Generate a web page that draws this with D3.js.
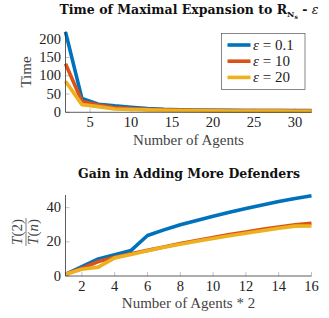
<!DOCTYPE html>
<html>
<head>
<meta charset="utf-8">
<script src="https://cdn.jsdelivr.net/npm/d3@7"></script>
<style>
  body { margin: 0; background: #fff; }
  text { font-family: "Liberation Serif", "DejaVu Serif", serif; }
  .ttl { font-family: "DejaVu Serif", serif; }
</style>
</head>
<body>
<svg id="chart" width="329" height="318"></svg>
<script>
var legendLabels = ["0.1", "10", "20"];
var colors = ["#0072BD", "#D95319", "#EDB120"];

// top chart: number of agents vs time
var agents = [2, 4, 6, 8, 10, 12, 14, 16, 18, 20, 22, 24, 26, 28, 30, 32];
var timeEps01 = [220, 38, 22, 17.5, 14, 10, 8, 7, 6.3, 5.8, 5.4, 5.1, 4.9, 4.8, 4.7, 4.6];
var timeEps10 = [133, 30, 20, 13, 10, 8, 7, 6, 5.5, 5.2, 5, 4.8, 4.6, 4.5, 4.4, 4.3];
var timeEps20 = [85, 21, 15.5, 9, 7.5, 6.5, 5.5, 5, 4.5, 4, 3.7, 3.5, 3.3, 3.1, 3, 2.9];
var topXTicks = [5, 10, 15, 20, 25, 30];
var topYTicks = [0, 50, 100, 150, 200];

// bottom chart: gain T(2)/T(n)
var pairs = [1, 2, 3, 4, 5, 6, 7, 8, 9, 10, 11, 12, 13, 14, 15, 16];
var gainEps01 = [1, 5.5, 10, 12.4, 15, 23.7, 27, 30, 32.5, 35, 37.3, 39.5, 41.6, 43.6, 45.4, 47];
var gainEps10 = [1, 4.5, 8.5, 11, 13, 15, 17, 19, 20.8, 22.5, 24.2, 25.8, 27.3, 28.7, 29.9, 30.9];
var gainEps20 = [1, 4, 5.2, 10.6, 12.6, 14.8, 16.8, 18.6, 20.3, 21.9, 23.5, 25, 26.5, 27.9, 29.2, 29.3];
var botXTicks = [2, 4, 6, 8, 10, 12, 14, 16];
var botYTicks = [0, 20, 40];

var svg = d3.select("#chart");
var axisCol = "#333", tickCol = "#999", labCol = "#222";

function panel(opt) {
  var x = d3.scaleLinear().domain(opt.xDomain).range([65.5, 311.5]);
  var y = d3.scaleLinear().domain(opt.yDomain).range([opt.bottom, opt.top]);
  var g = svg.append("g");

  // inward tick marks
  g.selectAll(".xt").data(opt.xTicks).enter().append("line")
    .attr("x1", d => x(d)).attr("x2", d => x(d))
    .attr("y1", opt.bottom).attr("y2", opt.bottom - 4)
    .attr("stroke", tickCol).attr("stroke-width", 0.6);
  g.selectAll(".yt").data(opt.yTicks).enter().append("line")
    .attr("x1", 65.5).attr("x2", 69.5)
    .attr("y1", d => y(d)).attr("y2", d => y(d))
    .attr("stroke", tickCol).attr("stroke-width", 0.6);

  var line = d3.line().x((d, i) => x(opt.xs[i])).y(d => y(d));
  opt.series.forEach(function(s, k) {
    g.append("path").datum(s)
      .attr("fill", "none").attr("stroke", colors[k])
      .attr("stroke-width", 3.6).attr("stroke-linejoin", "round")
      .attr("d", line);
  });

  // axis lines (left + bottom)
  g.append("path")
    .attr("d", "M65.5," + opt.top + "V" + opt.bottom + "H311.5")
    .attr("fill", "none").attr("stroke", axisCol).attr("stroke-width", 0.8);

  g.selectAll(".xl").data(opt.xTicks).enter().append("text")
    .attr("x", d => x(d)).attr("y", opt.bottom + 15)
    .attr("text-anchor", "middle").attr("font-size", 14.5).attr("fill", labCol)
    .text(d => d);
  g.selectAll(".yl").data(opt.yTicks).enter().append("text")
    .attr("x", 61).attr("y", d => y(d) + 4.5)
    .attr("text-anchor", "end").attr("font-size", 14.5).attr("fill", labCol)
    .text(d => d);

  g.append("text").attr("x", 188.5).attr("y", opt.xLabelY)
    .attr("text-anchor", "middle").attr("font-size", 15).attr("fill", "#444")
    .text(opt.xLabel);

  g.append("text").attr("class", "ttl").attr("x", opt.titleX).attr("y", opt.titleY)
    .attr("text-anchor", "middle").attr("font-size", 12.5)
    .attr("font-weight", "bold").attr("fill", "#111")
    .call(opt.title);
  return {x: x, y: y, g: g};
}

var topPanel = panel({
  xDomain: [2, 32], yDomain: [0, 221], top: 31.5, bottom: 112.3,
  xs: agents, series: [timeEps01, timeEps10, timeEps20],
  xTicks: topXTicks, yTicks: topYTicks,
  xLabel: "Number of Agents", xLabelY: 144.5, titleY: 14, titleX: 189,
  title: function(t) {
    t.append("tspan").text("Time of Maximal Expansion to R");
    t.append("tspan").attr("font-size", 8).attr("dy", 3).text("N");
    t.append("tspan").attr("font-size", 6).attr("dy", 1.5).text("s");
    t.append("tspan").attr("dy", -4.5).text(" - ");
    t.append("tspan").attr("font-weight", "normal").attr("font-style", "italic").text("ε");
  }
});

topPanel.g.append("text").attr("transform", "translate(31,72)rotate(-90)")
  .attr("text-anchor", "middle").attr("font-size", 15).attr("fill", "#444")
  .text("Time");

// legend
var leg = topPanel.g.append("g");
leg.append("rect").attr("x", 221.5).attr("y", 33.5).attr("width", 83.5).attr("height", 56)
  .attr("fill", "#fff").attr("stroke", "#555").attr("stroke-width", 0.7);
legendLabels.forEach(function(l, i) {
  var yy = 45 + i * 16.2;
  leg.append("line").attr("x1", 227.5).attr("x2", 250.5).attr("y1", yy).attr("y2", yy)
    .attr("stroke", colors[i]).attr("stroke-width", 3.6);
  var t = leg.append("text").attr("x", 253).attr("y", yy + 4.5)
    .attr("font-size", 15).attr("fill", labCol);
  t.append("tspan").attr("font-style", "italic").text("ε");
  t.append("tspan").text(" = " + l);
});

var botPanel = panel({
  xDomain: [1, 16], yDomain: [0, 47.4], top: 195, bottom: 276,
  xs: pairs, series: [gainEps01, gainEps10, gainEps20],
  xTicks: botXTicks, yTicks: botYTicks,
  xLabel: "Number of Agents * 2", xLabelY: 307.5, titleY: 178, titleX: 189,
  title: function(t) { t.text("Gain in Adding More Defenders"); }
});

// fraction y label T(2)/T(n)
var fr = botPanel.g.append("g").attr("transform", "translate(26,232)rotate(-90)");
fr.append("text").attr("x", 0).attr("y", -4).attr("text-anchor", "middle")
  .attr("font-size", 15).attr("fill", "#444")
  .html('<tspan font-style="italic">T</tspan>(2)');
fr.append("line").attr("x1", -14).attr("x2", 14).attr("y1", 0).attr("y2", 0)
  .attr("stroke", "#444").attr("stroke-width", 0.7);
fr.append("text").attr("x", 0).attr("y", 11.5).attr("text-anchor", "middle")
  .attr("font-size", 15).attr("fill", "#444")
  .html('<tspan font-style="italic">T</tspan>(<tspan font-style="italic">n</tspan>)');
</script>
</body>
</html>
